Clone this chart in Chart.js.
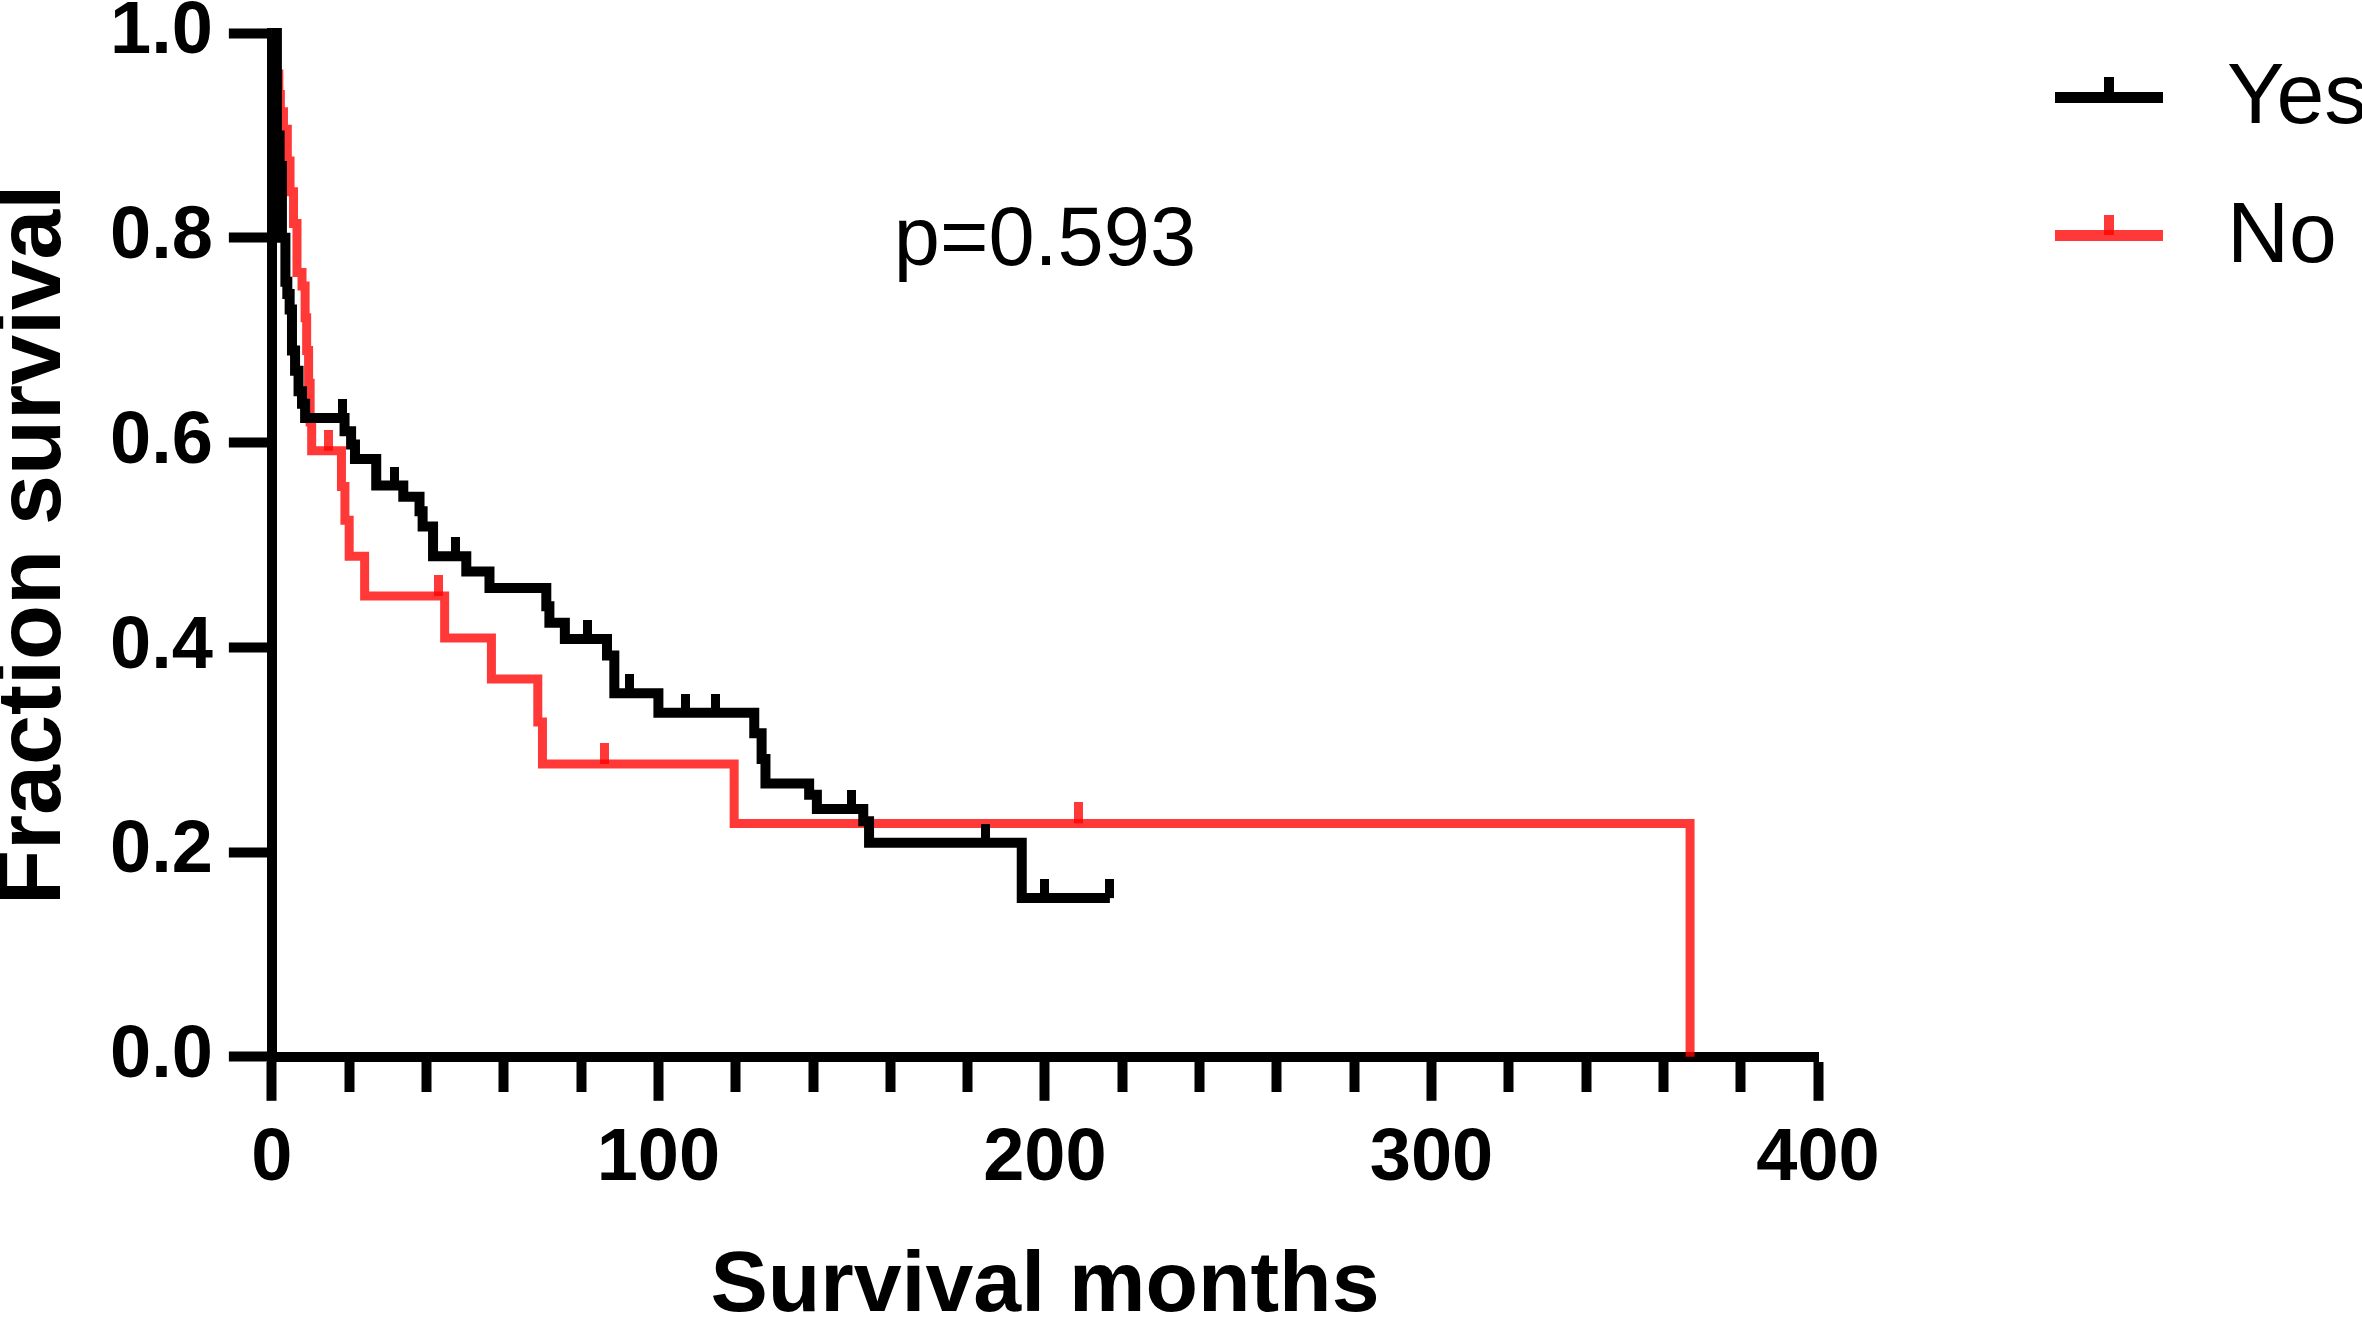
<!DOCTYPE html>
<html>
<head>
<meta charset="utf-8">
<script src="https://cdn.jsdelivr.net/npm/chart.js@4.4.1/dist/chart.umd.min.js"></script>
<style>
  html, body { margin: 0; padding: 0; background: #fff; }
  #wrap { width: 2362px; height: 1320px; }
</style>
</head>
<body>
<div id="wrap"><canvas id="kmChart"></canvas></div>
<script>
// Kaplan-Meier curves: time in months, fraction surviving after each step
const yesTimes = [0, 1.3, 2.0, 2.6, 3.5, 4.0, 4.6, 5.2, 6.0, 6.9, 7.8, 8.6, 18.8, 20.5, 21.5, 27.0,
  34.0, 38.2, 39.0, 41.7, 50.3, 56.3, 71.0, 71.8, 75.8, 86.7, 88.6, 100.0, 124.8, 126.7, 127.7,
  139.0, 141.0, 153.0, 154.5, 194.0, 216.8];
const yesSurv = [1.0, 0.90, 0.87, 0.80, 0.757, 0.745, 0.73, 0.69, 0.67, 0.65, 0.638, 0.624, 0.611, 0.598, 0.584, 0.558,
  0.547, 0.533, 0.518, 0.489, 0.474, 0.458, 0.44, 0.424, 0.408, 0.392, 0.355, 0.336, 0.316, 0.291, 0.267,
  0.256, 0.242, 0.23, 0.209, 0.155, 0.155];
const yesCensorTimes = [18.4, 31.8, 47.5, 81.7, 92.5, 107.0, 114.8, 150.0, 184.5, 200.0, 216.8];
const yesCensorSurv = [0.624, 0.558, 0.489, 0.408, 0.355, 0.336, 0.336, 0.242, 0.209, 0.155, 0.155];

const noTimes = [0, 1.2, 1.8, 2.2, 3.0, 4.0, 4.7, 5.6, 6.5, 7.8, 8.6, 9.0, 9.5, 9.9, 10.3,
  18.0, 18.9, 20.0, 24.0, 44.7, 56.8, 68.8, 70.0, 119.6, 366.9];
const noSurv = [1.0, 0.96, 0.94, 0.923, 0.906, 0.875, 0.845, 0.814, 0.766, 0.753, 0.722, 0.69, 0.658, 0.62, 0.592,
  0.557, 0.524, 0.489, 0.45, 0.409, 0.369, 0.327, 0.286, 0.228, 0.0];
const noCensorTimes = [14.6, 43.0, 86.0, 208.8];
const noCensorSurv = [0.592, 0.45, 0.286, 0.228];

const groupNames = ['Yes', 'No'];
const xLabelValues = [0, 100, 200, 300, 400];
const pValueText = 'p=0.593';

const BLACK = '#000000';
const RED = 'rgba(255, 0, 0, 0.78)';
const FONT = "'Liberation Sans', Arial, Helvetica, sans-serif";

function toPoints(xs, ys) {
  return xs.map((t, i) => ({ x: t, y: ys[i] }));
}

// upward censor tick: only the top half of the image is painted so it sits on the curve
function censorMark(color, w, up) {
  const c = document.createElement('canvas');
  c.width = w;
  c.height = up * 2;
  const g = c.getContext('2d');
  g.fillStyle = color;
  g.fillRect(0, 0, w, up);
  return c;
}

const legendAndP = {
  id: 'legendAndP',
  afterDraw(chart) {
    const ctx = chart.ctx;
    const area = chart.chartArea;
    ctx.save();
    // p value
    ctx.fillStyle = '#000';
    ctx.font = '83px ' + FONT;
    ctx.textAlign = 'center';
    ctx.textBaseline = 'alphabetic';
    ctx.fillText(pValueText, (area.left + area.right) / 2, area.top + 232);

    // legend
    const colors = [BLACK, RED];
    const rowsY = [97, 235];
    const textY = [123, 262];
    groupNames.forEach((name, i) => {
      ctx.fillStyle = colors[i];
      ctx.fillRect(2055, rowsY[i] - 5, 108, 11);
      ctx.fillRect(2104, rowsY[i] - 20, 10, 20);
      ctx.fillStyle = '#000';
      ctx.font = '86px ' + FONT;
      ctx.textAlign = 'left';
      ctx.fillText(name, 2227, textY[i]);
    });
    ctx.restore();
  }
};

const ctx = document.getElementById('kmChart');
const chart = new Chart(ctx, {
  type: 'line',
  data: {
    datasets: [
      {
        label: groupNames[0],
        data: toPoints(yesTimes, yesSurv),
        stepped: true,
        borderColor: BLACK,
        borderWidth: 10,
        pointRadius: 0,
        fill: false,
        clip: false
      },
      {
        label: groupNames[0] + ' censored',
        data: toPoints(yesCensorTimes, yesCensorSurv),
        showLine: false,
        pointStyle: censorMark(BLACK, 9, 19),
        pointRadius: 5,
        clip: false
      },
      {
        label: groupNames[1],
        data: toPoints(noTimes, noSurv),
        stepped: true,
        borderColor: RED,
        borderWidth: 9,
        pointRadius: 0,
        fill: false,
        clip: false
      },
      {
        label: groupNames[1] + ' censored',
        data: toPoints(noCensorTimes, noCensorSurv),
        showLine: false,
        pointStyle: censorMark(RED, 9, 21),
        pointRadius: 5,
        clip: false
      }
    ]
  },
  options: {
    responsive: true,
    maintainAspectRatio: false,
    animation: false,
    events: [],
    layout: { padding: { top: 10, right: 544, bottom: 0, left: 0 } },
    plugins: {
      legend: { display: false },
      tooltip: { enabled: false }
    },
    scales: {
      x: {
        type: 'linear',
        min: 0,
        max: 400,
        border: { display: true, color: '#000', width: 10 },
        grid: {
          drawOnChartArea: false,
          drawTicks: true,
          tickLength: 44,
          tickWidth: 10,
          tickColor: '#000',
          // minor ticks every 20 months are shorter than the labelled ones
          tickBorderDash: (c) => (xLabelValues.includes(c.tick.value) ? [] : [30, 1000])
        },
        ticks: {
          stepSize: 20,
          autoSkip: false,
          maxRotation: 0,
          padding: 22,
          color: '#000',
          font: { family: FONT, size: 74, weight: 'bold', lineHeight: 1.0 },
          callback: (v) => (xLabelValues.includes(v) ? String(v) : '')
        },
        title: {
          display: true,
          text: 'Survival months',
          color: '#000',
          font: { family: FONT, size: 86, weight: 'bold', lineHeight: 0.7 },
          padding: { top: 38, bottom: 3 }
        }
      },
      y: {
        min: 0,
        max: 1,
        border: { display: true, color: '#000', width: 10 },
        grid: {
          drawOnChartArea: false,
          drawTicks: true,
          tickLength: 43,
          tickWidth: 10,
          tickColor: '#000'
        },
        ticks: {
          stepSize: 0.2,
          padding: 16,
          color: '#000',
          font: { family: FONT, size: 74, weight: 'bold', lineHeight: 0.46 },
          callback: (v) => Number(v).toFixed(1)
        },
        title: {
          display: true,
          text: 'Fraction survival',
          color: '#000',
          font: { family: FONT, size: 90, weight: 'bold', lineHeight: 0.7 },
          padding: { top: 4, bottom: 27 }
        }
      }
    }
  },
  plugins: [legendAndP]
});
</script>
</body>
</html>
